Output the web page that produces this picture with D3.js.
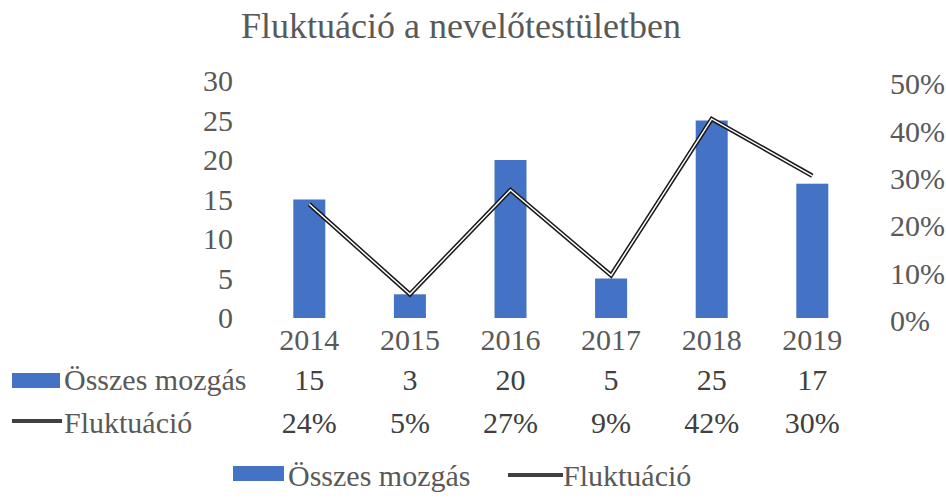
<!DOCTYPE html>
<html>
<head>
<meta charset="utf-8">
<script src="https://cdn.jsdelivr.net/npm/d3@7"></script>
<style>
  body { margin: 0; background: #fff; }
  text { font-family: "Liberation Serif", "Times New Roman", serif; }
</style>
</head>
<body>
<div id="chart"></div>
<script>
let years = ["2014", "2015", "2016", "2017", "2018", "2019"];
let mozgas = [15, 3, 20, 5, 25, 17];
let fluktuacio = [0.24, 0.05, 0.27, 0.09, 0.42, 0.30];
let leftTicks = [0, 5, 10, 15, 20, 25, 30];
let rightTicks = [0, 0.1, 0.2, 0.3, 0.4, 0.5];

let width = 946,
    height = 499;

let blue = "#4472c4",
    grey = "#595959",
    dark = "#404040";

let svg = d3.select("#chart")
    .append("svg")
    .attr("width", width)
    .attr("height", height);

let x = d3.scaleBand().domain(years).range([259, 862.6]).padding(0);
let yLeft = d3.scaleLinear().domain([0, 30]).range([318, 81]);
let yRight = d3.scaleLinear().domain([0, 0.5]).range([318, 81]);
let cx = function (d) { return x(d) + x.bandwidth() / 2; };
let barW = 32;

// title
svg.append("text")
    .attr("x", 461)
    .attr("y", 38)
    .attr("text-anchor", "middle")
    .attr("font-size", 36)
    .attr("fill", grey)
    .text("Fluktuáció a nevelőtestületben");

// left axis
let axL = svg.append("g")
    .attr("transform", "translate(241,0)")
    .call(d3.axisLeft(yLeft).tickValues(leftTicks).tickSize(0).tickPadding(8));
axL.select(".domain").remove();
axL.selectAll("text")
    .attr("font-size", 30)
    .attr("fill", grey)
    .style("font-family", "Liberation Serif");

// right axis
let axR = svg.append("g")
    .attr("transform", "translate(882,0)")
    .call(d3.axisRight(yRight).tickValues(rightTicks).tickSize(0).tickPadding(8)
        .tickFormat(d3.format(".0%")));
axR.select(".domain").remove();
axR.selectAll("text")
    .attr("font-size", 30)
    .attr("dy", "0.42em")
    .attr("fill", grey)
    .style("font-family", "Liberation Serif");

// bars
svg.selectAll(".bar")
    .data(years)
    .enter().append("rect")
    .attr("class", "bar")
    .attr("x", function (d) { return cx(d) - barW / 2; })
    .attr("y", function (d, i) { return yLeft(mozgas[i]); })
    .attr("width", barW)
    .attr("height", function (d, i) { return yLeft(0) - yLeft(mozgas[i]); })
    .attr("fill", blue);

// line (double stroke look)
let line = d3.line()
    .x(function (d, i) { return cx(years[i]); })
    .y(function (d) { return yRight(d); });

svg.append("path")
    .datum(fluktuacio)
    .attr("d", line)
    .attr("fill", "none")
    .attr("stroke", "#1a1a1a")
    .attr("stroke-width", 4.5)
    .attr("stroke-linejoin", "miter");

svg.append("path")
    .datum(fluktuacio)
    .attr("d", line)
    .attr("fill", "none")
    .attr("stroke", "#ffffff")
    .attr("stroke-width", 1.5);

// category labels (table header)
svg.selectAll(".year")
    .data(years)
    .enter().append("text")
    .attr("class", "year")
    .attr("x", cx)
    .attr("y", 350)
    .attr("text-anchor", "middle")
    .attr("font-size", 30)
    .attr("fill", grey)
    .text(function (d) { return d; });

// data table rows
let rows = [
    { name: "Összes mozgás", vals: mozgas.map(String), y: 390, key: "bar" },
    { name: "Fluktuáció", vals: fluktuacio.map(d3.format(".0%")), y: 433, key: "line" }
];

rows.forEach(function (r) {
    if (r.key === "bar") {
        svg.append("rect")
            .attr("x", 12).attr("y", r.y - 17)
            .attr("width", 48).attr("height", 15)
            .attr("fill", blue);
    } else {
        svg.append("line")
            .attr("x1", 12).attr("x2", 62)
            .attr("y1", r.y - 12).attr("y2", r.y - 12)
            .attr("stroke", dark)
            .attr("stroke-width", 4);
    }
    svg.append("text")
        .attr("x", 64)
        .attr("y", r.y)
        .attr("font-size", 30)
        .attr("fill", grey)
        .text(r.name);
    svg.selectAll(".v" + r.key)
        .data(r.vals)
        .enter().append("text")
        .attr("x", function (d, i) { return cx(years[i]); })
        .attr("y", r.y)
        .attr("text-anchor", "middle")
        .attr("font-size", 30)
        .attr("fill", dark)
        .text(function (d) { return d; });
});

// legend
let lg = svg.append("g");
lg.append("rect")
    .attr("x", 233).attr("y", 466)
    .attr("width", 51).attr("height", 15)
    .attr("fill", blue);
lg.append("text")
    .attr("x", 288).attr("y", 486)
    .attr("font-size", 30)
    .attr("fill", grey)
    .text("Összes mozgás");
lg.append("line")
    .attr("x1", 508).attr("x2", 563)
    .attr("y1", 475).attr("y2", 475)
    .attr("stroke", dark)
    .attr("stroke-width", 4);
lg.append("text")
    .attr("x", 563).attr("y", 486)
    .attr("font-size", 30)
    .attr("fill", grey)
    .text("Fluktuáció");
</script>
</body>
</html>
